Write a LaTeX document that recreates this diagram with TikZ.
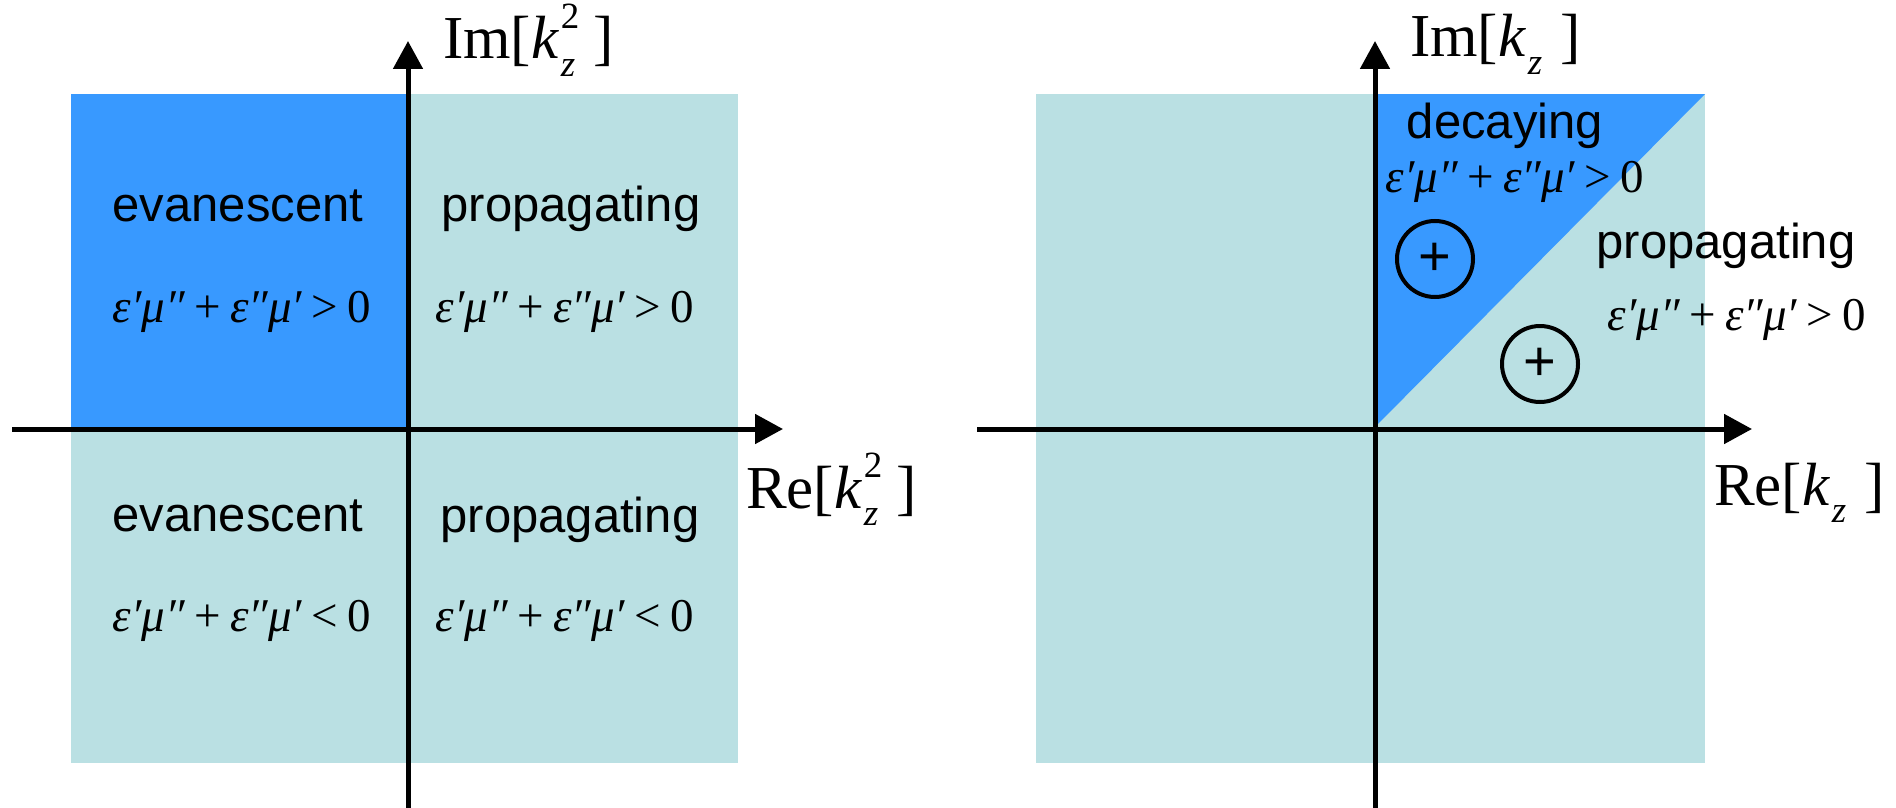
\documentclass[tikz,border=0pt]{standalone}
\usepackage{fontspec}
\setmainfont{Liberation Serif}
\setsansfont{Liberation Sans}
\usetikzlibrary{arrows.meta}
\definecolor{lightq}{HTML}{BAE0E3}
\definecolor{darkq}{HTML}{3899FF}
\newcommand\fsz[1]{\fontsize{#1}{#1}\selectfont}
\newcommand\cond[1]{{\itshape ε′μ″}\kern0.2em+\kern0.2em{\itshape ε″μ′}\kern0.2em#1\kern0.2em0}
\newcommand\kzlab[2]{#1[{\itshape k}\kern0.04em\rlap{\raisebox{0.5em}{\fsz{37}#2}}\raisebox{-0.28em}{\fsz{37}\itshape z}\kern0.3em]}
\tikzset{
  axis/.style={line width=5pt, -{Triangle[length=28pt,width=29pt]}},
  word/.style={font=\sffamily\fsz{49}, anchor=base, inner sep=0pt},
  formula/.style={font=\fsz{47}, anchor=base, inner sep=0pt},
  axlabel/.style={font=\fsz{61}, anchor=base west, inner sep=0pt},
  sign/.style={circle, draw, line width=4pt, minimum size=76pt, inner sep=0pt, font=\sffamily\fsz{56}}
}
\begin{document}
\begin{tikzpicture}[x=1pt,y=-1pt]
\useasboundingbox (0,0) rectangle (1896,808);
% ---------- left panel ----------
\fill[lightq] (71,94) rectangle (738,763);
\fill[darkq] (71,94) rectangle (408,429);
\coordinate (lyb) at (408,808);
\coordinate (lyt) at (408,41);
\coordinate (lxl) at (12,429);
\coordinate (lxr) at (783,429);
\draw[axis] (lyb) -- (lyt);
\draw[axis] (lxl) -- (lxr);
\node[axlabel] (limlab) at (443,59) {\kzlab{Im}{2}};
\node[axlabel] (lrelab) at (746,508) {\kzlab{Re}{2}};
\node[word] (ev1) at (238,221) {evanescent};
\node[formula] (f1) at (242,322) {\cond{>}};
\node[word] (pr1) at (571,221) {propagating};
\node[formula] (f2) at (565,322) {\cond{>}};
\node[word] (ev2) at (238,531) {evanescent};
\node[formula] (f3) at (242,631) {\cond{<}};
\node[word] (pr2) at (570,532) {propagating};
\node[formula] (f4) at (565,631) {\cond{<}};
% ---------- right panel ----------
\fill[lightq] (1036,94) rectangle (1705,763);
\fill[darkq] (1375,427) -- (1375,94) -- (1705,94) -- cycle;
\coordinate (ryb) at (1375,808);
\coordinate (ryt) at (1375,41);
\coordinate (rxl) at (977,429);
\coordinate (rxr) at (1752,429);
\draw[axis] (ryb) -- (ryt);
\draw[axis] (rxl) -- (rxr);
\node[axlabel] (rimlab) at (1410,57) {\kzlab{Im}{}};
\node[axlabel] (rrelab) at (1714,505) {\kzlab{Re}{}};
\node[word] (dec) at (1505,138) {decaying};
\node[formula] (f5) at (1515,192) {\cond{>}};
\node[word] (pr3) at (1726,258) {propagating};
\node[formula] (f6) at (1737,330) {\cond{>}};
\node[sign] (s1) at (1435,259) {+};
\node[sign] (s2) at (1540,364) {+};
\end{tikzpicture}
\end{document}
